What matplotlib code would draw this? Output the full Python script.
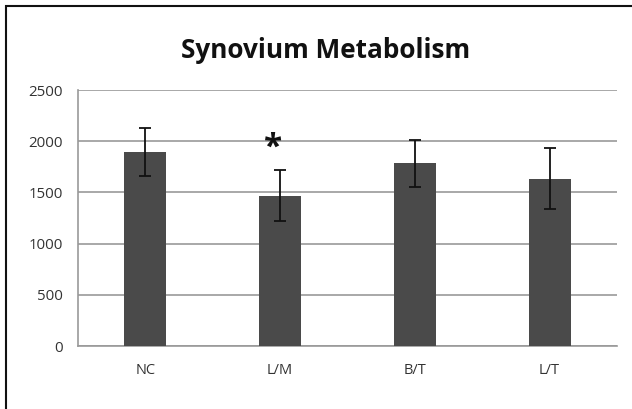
import matplotlib
matplotlib.use("Agg")
import matplotlib.pyplot as plt
from matplotlib.patches import Rectangle

categories = ["NC", "L/M", "B/T", "L/T"]
means = [1897, 1468, 1784, 1634]
errors = [233, 247, 228, 296]
yticks = [0, 500, 1000, 1500, 2000, 2500]
title = "Synovium Metabolism"

plt.rcParams['font.family'] = ['Open Sans', 'DejaVu Sans']

fig = plt.figure(figsize=(6.32, 4.09), dpi=100)
W, H = 632, 409
ax = fig.add_axes([78 / W, 1 - 346 / H, (617 - 78) / W, (346 - 90) / H])

x = list(range(len(categories)))
ax.bar(x, means, width=0.31, color="#4a4a4a", zorder=3)
ax.errorbar(x, means, yerr=errors, fmt="none", ecolor="#111111",
            elinewidth=1.3, capsize=4, capthick=1.3, zorder=4)

ax.set_xlim(-0.5, len(categories) - 0.5)
ax.set_ylim(0, 2500)
ax.set_yticks(yticks)
ax.set_yticklabels([str(v) for v in yticks], fontsize=10.8, color="#333333")
ax.set_xticks(x)
ax.set_xticklabels(categories, fontsize=10.5, color="#333333")
ax.tick_params(axis="both", length=0)
ax.tick_params(axis="y", pad=11)
ax.tick_params(axis="x", pad=12)
ax.yaxis.grid(True, color="#999999", linewidth=1.2, zorder=0)
for s in ["top", "right"]:
    ax.spines[s].set_visible(False)
for s in ["bottom", "left"]:
    ax.spines[s].set_color("#999999")
    ax.spines[s].set_linewidth(1.2)

ax.text(1 - 0.05, means[1] + errors[1] + 215, "*", ha="center", va="center",
        fontsize=24, fontweight="bold", color="#111111")

fig.text(326 / W, 1 - 50 / H, title, ha="center", va="center",
         fontsize=18.8, fontweight="bold", color="#111111")

fig.patches.append(Rectangle((6 / W, -0.1), 1.2, 1 - 6 / H + 0.1,
                             transform=fig.transFigure, fill=False,
                             edgecolor="#111111", linewidth=1.5))

fig.savefig("out.png", dpi=100)
